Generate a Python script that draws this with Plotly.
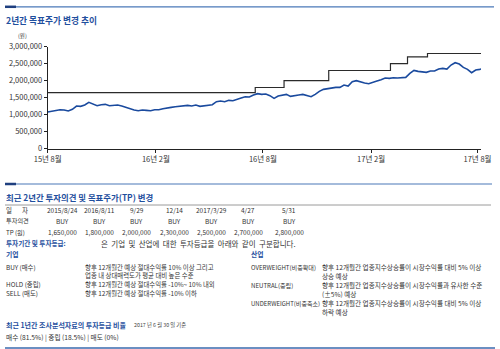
import pandas as pd
import plotly.graph_objects as go

# ---------------- data ----------------
price_start = "2015-08-24"
price_values = [
    1078, 1098, 1118, 1147, 1140, 1108, 1157, 1255, 1245, 1284,
    1363, 1324, 1265, 1294, 1304, 1265, 1275, 1284, 1255, 1216,
    1167, 1137, 1118, 1137, 1128, 1118, 1147, 1147, 1176, 1186,
    1216, 1235, 1255, 1255, 1275, 1255, 1284, 1245, 1265, 1265,
    1294, 1382, 1402, 1382, 1422, 1412, 1461, 1490, 1529, 1520,
    1578, 1618, 1598, 1608, 1559, 1480, 1549, 1578, 1598, 1539,
    1569, 1578, 1598, 1569, 1529, 1598, 1686, 1745, 1765, 1794,
    1804, 1804, 1873, 1843, 1971, 2000, 1961, 1931, 1912, 1961,
    1990, 2029, 2078, 2069, 2088, 2078, 2078, 2098, 2216, 2304,
    2275, 2265, 2245, 2284, 2284, 2343, 2363, 2343, 2461, 2529,
    2490, 2392, 2333, 2235, 2314, 2333, 2343,
]  # thousand won
price_dates = list(pd.date_range(price_start, periods=106, freq="7D").strftime("%Y-%m-%d")) + ["2017-08-30"]

tp_dates = ["2015-08-24", "2016-08-11", "2016-09-29", "2016-12-14", "2017-03-29", "2017-04-27", "2017-05-31", "2017-08-30"]
tp_values = [1650000, 1800000, 2000000, 2300000, 2500000, 2700000, 2800000, 2800000]

table_dates = ["2015/8/24", "2016/8/11", "9/29", "12/14", "2017/3/29", "4/27", "5/31"]
table_opinions = ["BUY", "BUY", "BUY", "BUY", "BUY", "BUY", "BUY"]
table_tp = [1650000, 1800000, 2000000, 2300000, 2500000, 2700000, 2800000]

x_tickvals = ["2015-08-24", "2016-02-24", "2016-08-24", "2017-02-24", "2017-08-24"]
x_ticktext = ["15년 8월", "16년 2월", "16년 8월", "17년 2월", "17년 8월"]
y_tickvals = [0, 500000, 1000000, 1500000, 2000000, 2500000, 3000000]

# ---------------- layout helpers ----------------
W, H = 500, 349
FONT = "Noto Sans CJK KR"
BLUE = "#1f4f9e"
TXT = "#333333"


def X(px):
    return px / W


def Y(py):
    return 1 - py / H


fig = go.Figure()
fig.add_trace(go.Scatter(
    x=price_dates, y=[v * 1000 for v in price_values], mode="lines",
    line=dict(color="#1a4a9e", width=1.6), hoverinfo="skip", showlegend=False))
fig.add_trace(go.Scatter(
    x=tp_dates, y=tp_values, mode="lines", line_shape="hv",
    line=dict(color="#2b2b2b", width=1.2), hoverinfo="skip", showlegend=False))

annotations = []


def txt(x, y, s, size=6.4, color=TXT, bold=False, anchor="left"):
    annotations.append(dict(
        x=X(x), y=Y(y), xref="paper", yref="paper", text=s, showarrow=False,
        xanchor=anchor, yanchor="middle", borderpad=0,
        font=dict(family=FONT, size=size, color=color, weight="bold" if bold else "normal")))


# section 1
txt(5, 21, "2년간 목표주가 변경 추이", size=8.7, color=BLUE, bold=True)
txt(22, 36, "(원)", size=5.5, anchor="center")

# section 2 : table
txt(5, 197, "최근 2년간 투자의견 및 목표주가(TP) 변경", size=8.4, color=BLUE, bold=True)
txt(5, 210, "일", size=6.5)
txt(21, 210, "자", size=6.5)
txt(5, 221, "투자의견", size=6.2)
txt(5, 232, "TP (원)", size=6.2)
col_x = [62, 99, 136.5, 174, 211, 248, 289]
for cx, d, o, t in zip(col_x, table_dates, table_opinions, table_tp):
    txt(cx, 210, d, size=6.5, anchor="center")
    txt(cx, 221, o, size=6.5, anchor="center")
    txt(cx, 232, f"{t:,}", size=6.5, anchor="center")

# section 3 : rating definitions
txt(5, 243, "투자기간 및 투자등급:", size=6.6, color=BLUE, bold=True)
sentence = "은 기업 및 산업에 대한 투자등급을 아래와 같이 구분합니다."
txt(100, 243, sentence.replace(" ", "&nbsp; "), size=7.5)
txt(5, 254, "기업", size=6.8, color=BLUE, bold=True)
txt(250, 254, "산업", size=6.8, color=BLUE, bold=True)

txt(5, 267, "BUY (매수)")
txt(84, 267, "향후 12개월간 예상 절대수익률 10% 이상 그리고")
txt(84, 275.5, "업종 내 상대매력도가 평균 대비 높은 수준")
txt(5, 284.5, "HOLD (중립)")
txt(84, 284.5, "향후 12개월간 예상 절대수익률 -10%~ 10% 내외")
txt(5, 293.5, "SELL (매도)")
txt(84, 293.5, "향후 12개월간 예상 절대수익률 -10% 이하")

txt(250, 267, "OVERWEIGHT(비중확대)", size=6.1)
txt(321, 267, "향후 12개월간 업종지수상승률이 시장수익률 대비 5% 이상", size=6.6)
txt(321, 275.5, "상승 예상", size=6.6)
txt(250, 285, "NEUTRAL(중립)", size=6.1)
txt(321, 285, "향후 12개월간 업종지수상승률이 시장수익률과 유사한 수준", size=6.6)
txt(321, 293.5, "(±5%) 예상", size=6.6)
txt(250, 303, "UNDERWEIGHT(비중축소)", size=6.0)
txt(321, 303, "향후 12개월간 업종지수상승률이 시장수익률 대비 5% 이상", size=6.6)
txt(321, 311.5, "하락 예상", size=6.6)

# section 4
txt(5, 325, "최근 1년간 조사분석자료의 투자등급 비율", size=7, color=BLUE, bold=True)
txt(133, 325, "2017 년 6 월 30 일 기준", size=5.3, color="#444444")
txt(5, 337, "매수 (81.5%) | 중립 (18.5%) | 매도 (0%)", size=6.7)

shapes = []


def hline(x0, x1, y, color, width):
    shapes.append(dict(type="line", xref="paper", yref="paper", x0=X(x0), x1=X(x1),
                       y0=Y(y), y1=Y(y), line=dict(color=color, width=width)))


hline(5, 494, 6.8, "#4a78b8", 1.2)
hline(5, 16, 6.8, "#1f3f7f", 2.5)
hline(5, 492, 184, "#4a78b8", 1.2)
hline(5, 16, 184, "#1f3f7f", 2.5)
hline(5, 491, 205, "#9a9a9a", 1)
hline(5, 495, 348, "#3a6aae", 1.5)

fig.update_layout(
    width=W, height=H, margin=dict(l=0, r=0, t=0, b=0),
    paper_bgcolor="white", plot_bgcolor="white",
    annotations=annotations, shapes=shapes, showlegend=False,
    font=dict(family=FONT, color=TXT),
    xaxis=dict(domain=[X(47.7), X(481)], type="date", range=["2015-08-24", "2017-08-30"],
               tickvals=x_tickvals, ticktext=x_ticktext, showgrid=False, zeroline=False,
               showline=True, linecolor="#222", linewidth=1, ticks="outside", ticklen=3,
               tickcolor="#222", tickfont=dict(family=FONT, size=7.5, color=TXT), automargin=False),
    yaxis=dict(domain=[Y(148.7), Y(46.7)], range=[0, 3000000], tickvals=y_tickvals,
               tickformat=",", showgrid=False, zeroline=False, showline=True,
               linecolor="#222", linewidth=1, ticks="outside", ticklen=3, tickcolor="#222",
               tickfont=dict(family=FONT, size=7.5, color=TXT), automargin=False),
)

fig.write_html("out.html")
